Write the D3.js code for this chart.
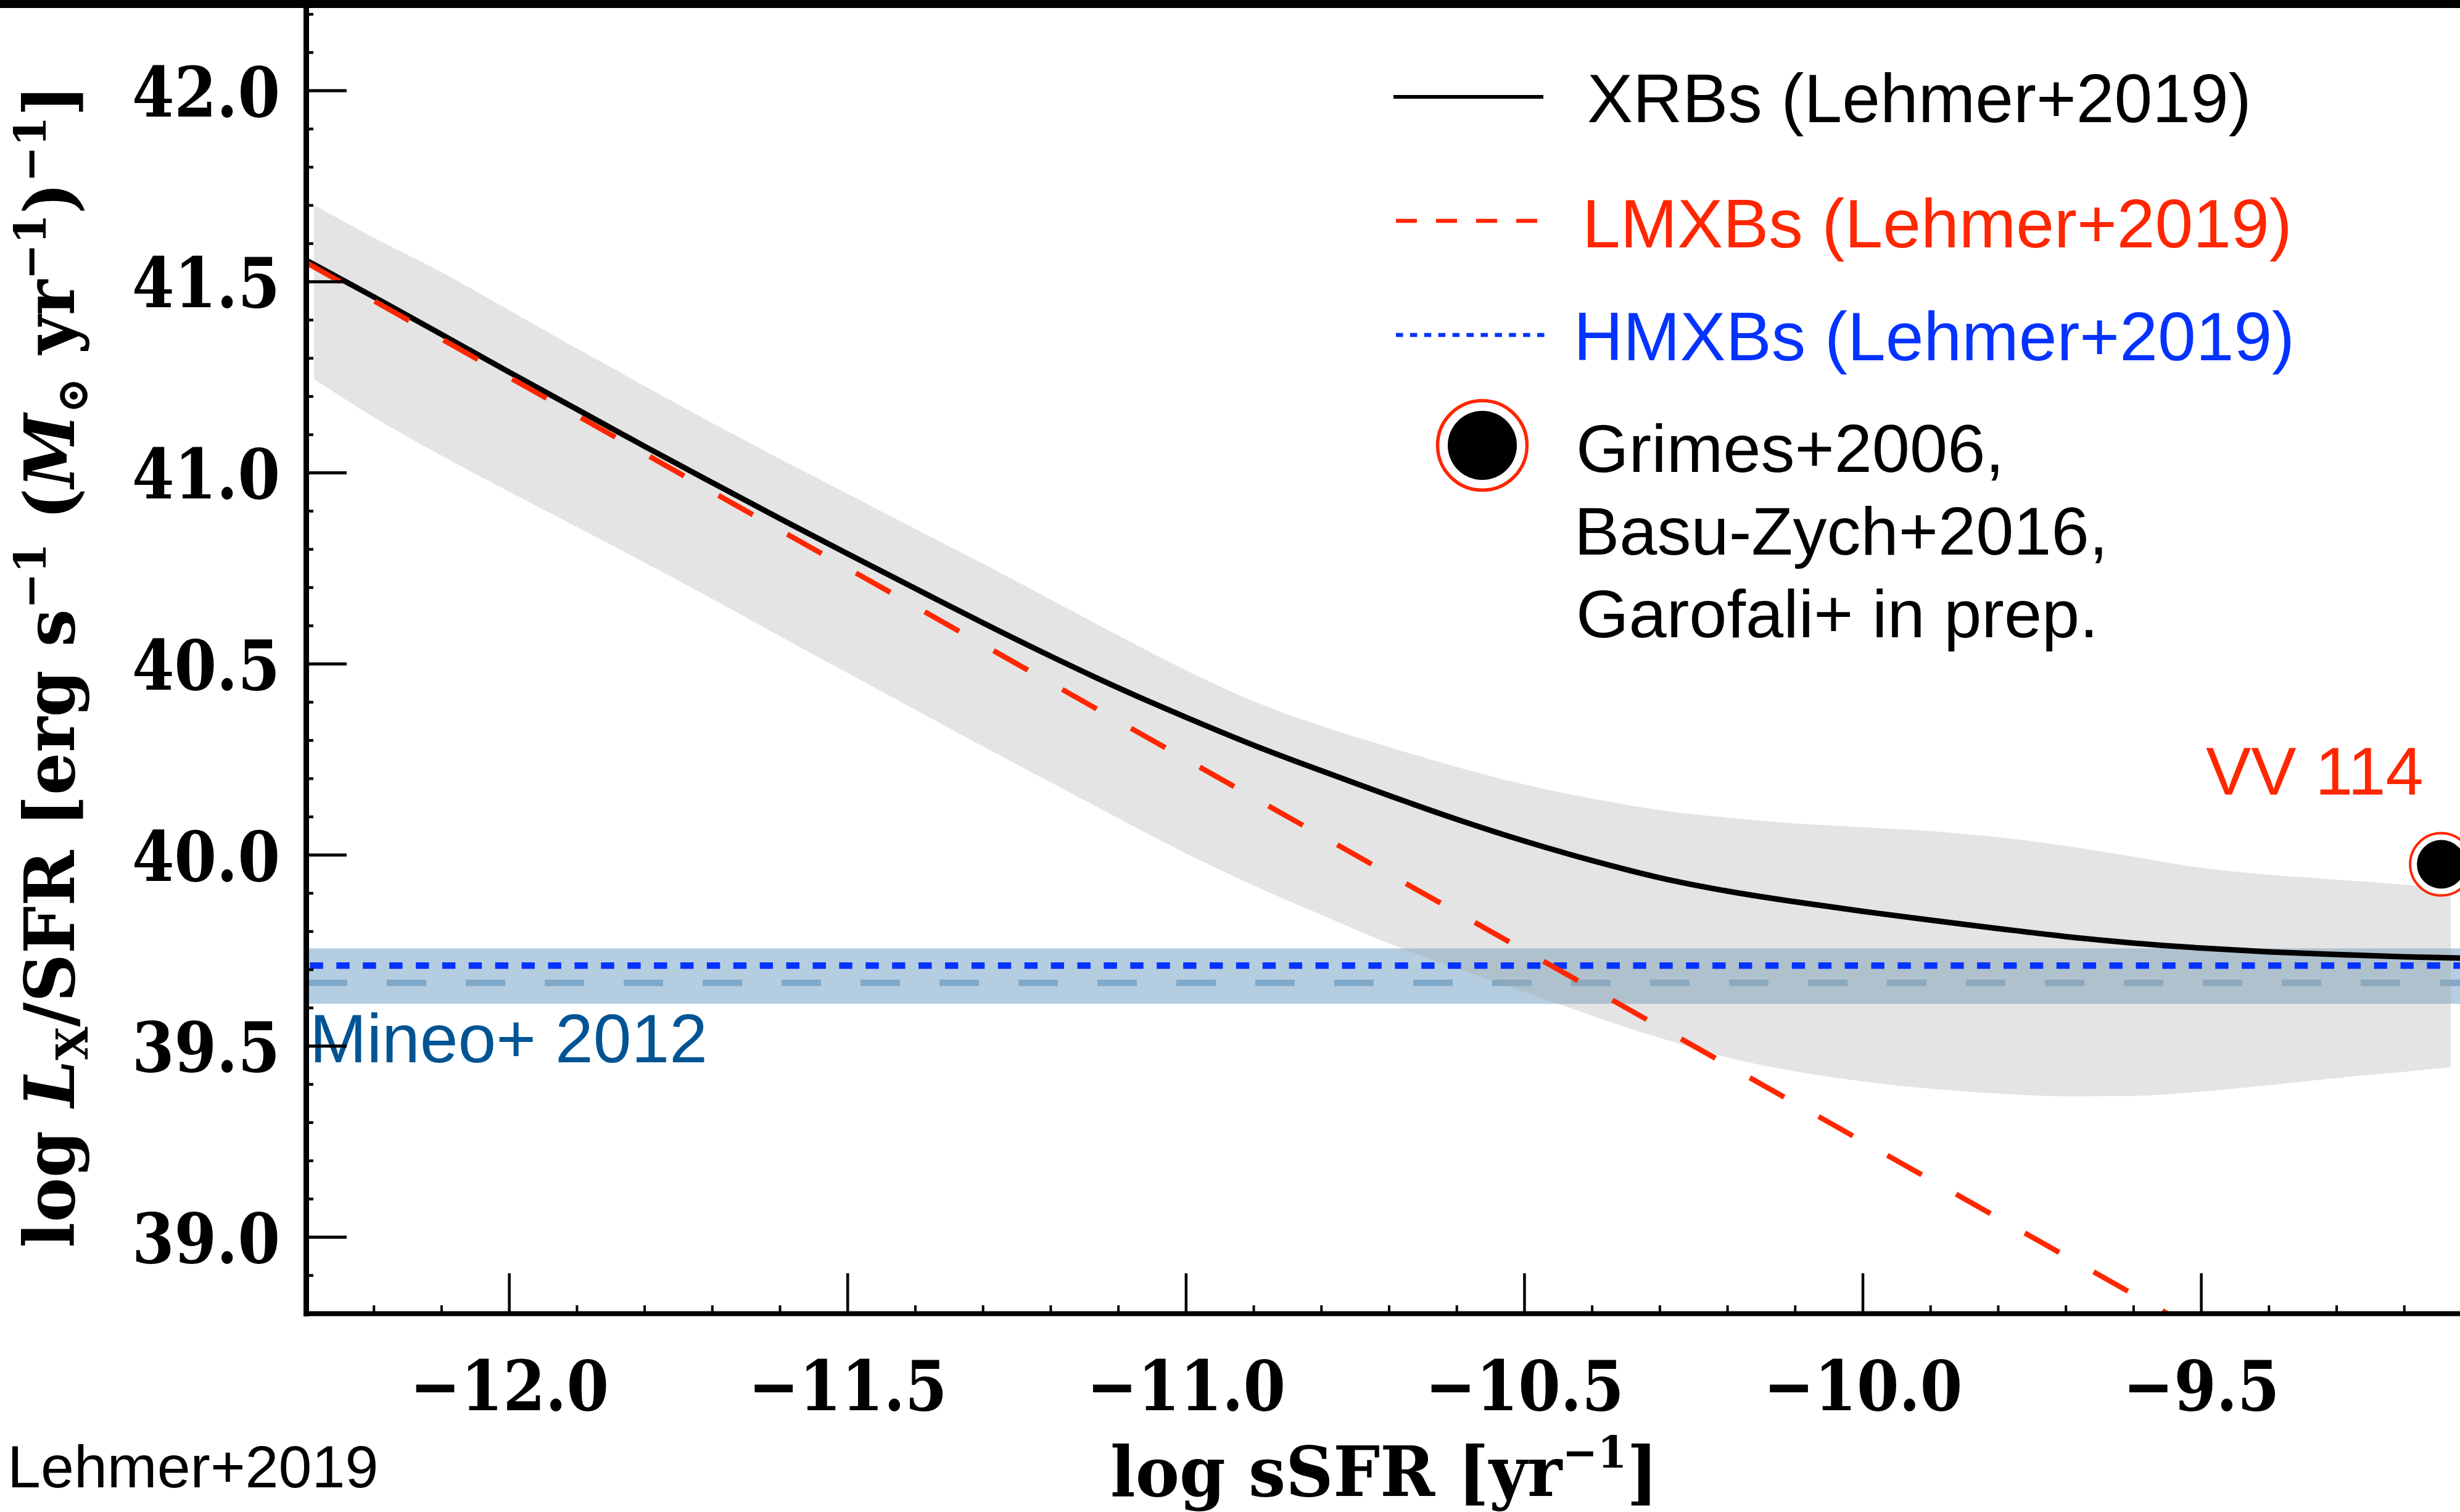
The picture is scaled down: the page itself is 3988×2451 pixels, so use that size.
<!DOCTYPE html>
<html>
<head>
<meta charset="utf-8">
<script src="https://cdn.jsdelivr.net/npm/d3@7"></script>
<style>
  html, body { margin: 0; padding: 0; background: #fff; }
  svg { display: block; }
</style>
</head>
<body>
<script>
// ---------------- data ----------------
// total XRB scaling relation (log L_X/SFR) sampled along log sSFR
const sSFR = [-12.3, -12.2, -12.1, -12.0, -11.9, -11.8, -11.7, -11.6, -11.5, -11.4, -11.3,
              -11.2, -11.1, -11.0, -10.9, -10.8, -10.7, -10.6, -10.5, -10.4, -10.3, -10.2,
              -10.1, -10.0, -9.9, -9.8, -9.7, -9.6, -9.5, -9.4, -9.3, -9.2, -9.1];
const xrbTotal = [41.556, 41.460, 41.362, 41.263, 41.166, 41.069, 40.974, 40.880, 40.788, 40.697, 40.607,
                  40.520, 40.437, 40.360, 40.287, 40.220, 40.155, 40.093, 40.036, 39.985, 39.940, 39.905,
                  39.877, 39.852, 39.829, 39.807, 39.786, 39.769, 39.756, 39.746, 39.739, 39.733, 39.729];

// LMXB component
const lmxbSSFR = [-12.3, -11.5, -10.5, -9.5];
const lmxbLx   = [41.55, 40.75, 39.75, 38.75];

// HMXB component (flat)
const hmxbSSFR = [-12.3, -9.1];
const hmxbLx   = [39.71, 39.71];

// scatter envelope around the total relation
const bandSSFR = [-12.288, -12.2, -12.1, -12.0, -11.9, -11.8, -11.7, -11.6, -11.5, -11.4, -11.3,
                  -11.2, -11.1, -11.0, -10.9, -10.8, -10.7, -10.6, -10.5, -10.4, -10.3, -10.2,
                  -10.1, -10.0, -9.9, -9.8, -9.7, -9.6, -9.5, -9.4, -9.3, -9.2, -9.131];
const bandHi = [41.70, 41.615, 41.525, 41.425, 41.325, 41.227, 41.13, 41.036, 40.945, 40.853, 40.762,
                40.668, 40.574, 40.483, 40.402, 40.337, 40.282, 40.23, 40.184, 40.147, 40.117, 40.097,
                40.082, 40.072, 40.062, 40.046, 40.023, 39.995, 39.966, 39.948, 39.935, 39.922, 39.91];
const bandLo = [41.245, 41.145, 41.045, 40.95, 40.858, 40.765, 40.670, 40.572, 40.476, 40.380, 40.284,
                40.190, 40.096, 40.004, 39.920, 39.843, 39.768, 39.703, 39.641, 39.579, 39.521, 39.470,
                39.433, 39.407, 39.388, 39.375, 39.368, 39.369, 39.380, 39.397, 39.416, 39.432, 39.444];

// Mineo+2012 relation: [low, median, high]
const mineoLx = [39.61, 39.665, 39.755];

// VV 114 measurement: [log sSFR, log Lx/SFR]
const vv114 = [-9.145, 39.975];

// axis ticks
const xTickValues = [-12.0, -11.5, -11.0, -10.5, -10.0, -9.5];
const xTickLabels = ["\u221212.0", "\u221211.5", "\u221211.0", "\u221210.5", "\u221210.0", "\u22129.5"];
const yTickValues = [39.0, 39.5, 40.0, 40.5, 41.0, 41.5, 42.0];
const yTickLabels = ["39.0", "39.5", "40.0", "40.5", "41.0", "41.5", "42.0"];

// legend and annotation texts
const legendLabels = ["XRBs (Lehmer+2019)", "LMXBs (Lehmer+2019)", "HMXBs (Lehmer+2019)"];
const pointLabels = ["Grimes+2006,", "Basu-Zych+2016,", "Garofali+ in prep."];

// ---------------- setup ----------------
const W = 3988, H = 2451;
const RED = "#ff2600", BLUE = "#0433ff", MINEO = "#005493";
const SERIF = "'DejaVu Serif', serif";
const SANS = "'Liberation Sans', Arial, Helvetica, sans-serif";

const svg = d3.select("body").append("svg")
  .attr("width", W).attr("height", H).attr("viewBox", `0 0 ${W} ${H}`);
svg.append("rect").attr("width", W).attr("height", H).attr("fill", "#fff");

const x = d3.scaleLinear().domain([-12.3, -9.1]).range([496, 4007]);
const y = d3.scaleLinear().domain([38.8, 42.227]).range([2129, 6]);

const [x0, x1] = x.range();
const [yB, yT] = y.range();

svg.append("defs").append("clipPath").attr("id", "plot-clip")
  .append("rect").attr("x", x0).attr("y", yT).attr("width", x1 - x0).attr("height", yB - yT);

const plot = svg.append("g").attr("clip-path", "url(#plot-clip)");

// Mineo+2012 band and median
plot.append("rect")
  .attr("x", x0).attr("width", x1 - x0)
  .attr("y", y(mineoLx[2])).attr("height", y(mineoLx[0]) - y(mineoLx[2]))
  .attr("fill", "#b5cde0");
plot.append("line")
  .attr("x1", x(hmxbSSFR[0])).attr("x2", x(hmxbSSFR[1]))
  .attr("y1", y(mineoLx[1])).attr("y2", y(mineoLx[1]))
  .attr("stroke", "#80a9c9").attr("stroke-width", 10.5)
  .attr("stroke-dasharray", "64 64").attr("stroke-dashoffset", 125);

// scatter envelope
const band = bandSSFR.map((s, i) => ({ s, hi: bandHi[i], lo: bandLo[i] }));
plot.append("path")
  .datum(band)
  .attr("d", d3.area().x(d => x(d.s)).y0(d => y(d.lo)).y1(d => y(d.hi)).curve(d3.curveMonotoneX))
  .attr("fill", "#a5a5a5").attr("fill-opacity", 0.3);

// total XRB relation
const line = d3.line().x(d => x(d[0])).y(d => y(d[1])).curve(d3.curveMonotoneX);
plot.append("path")
  .datum(sSFR.map((s, i) => [s, xrbTotal[i]]))
  .attr("d", line).attr("fill", "none").attr("stroke", "#000").attr("stroke-width", 9);

// HMXB component
plot.append("path")
  .datum(hmxbSSFR.map((s, i) => [s, hmxbLx[i]]))
  .attr("d", d3.line().x(d => x(d[0])).y(d => y(d[1])))
  .attr("fill", "none").attr("stroke", BLUE).attr("stroke-width", 10.5)
  .attr("stroke-dasharray", "21.4 21.5").attr("stroke-dashoffset", 36.5);

// LMXB component
plot.append("path")
  .datum(lmxbSSFR.map((s, i) => [s, lmxbLx[i]]))
  .attr("d", d3.line().x(d => x(d[0])).y(d => y(d[1])))
  .attr("fill", "none").attr("stroke", RED).attr("stroke-width", 8.5)
  .attr("stroke-dasharray", "64 64");

// Mineo label (under the axes)
svg.append("text")
  .attr("x", 502).attr("y", 1722)
  .attr("font-family", SANS).attr("font-size", 111).attr("fill", MINEO)
  .text("Mineo+ 2012");

// ---------------- axes ----------------
const squeeze = (sel, k) => sel.each(function () {
  const t = d3.select(this);
  const ax = +t.attr("x") || 0, ay = +t.attr("y") || 0;
  t.attr("transform", `translate(${ax},${ay}) scale(${k},1) translate(${-ax},${-ay})`);
});

const isMajor = v => Math.abs(v * 2 - Math.round(v * 2)) < 1e-6;
const xMinor = d3.range(-123, -90).map(i => i / 10).filter(v => !isMajor(v));
const yMinor = d3.range(388, 423).map(i => i / 10).filter(v => !isMajor(v));

// bottom axis
const gxm = svg.append("g").attr("transform", `translate(0,${yB})`)
  .call(d3.axisBottom(x).tickValues(xMinor).tickSize(-13).tickSizeOuter(0).tickFormat(""));
gxm.select(".domain").remove();
gxm.selectAll(".tick line").attr("stroke-width", 4);

const gx = svg.append("g").attr("transform", `translate(0,${yB})`)
  .call(d3.axisBottom(x).tickValues(xTickValues)
    .tickFormat((d, i) => xTickLabels[i]).tickSize(-65).tickSizeOuter(0).tickPadding(0));
gx.select(".domain").attr("stroke-width", 8).attr("stroke-linecap", "square");
gx.selectAll(".tick line").attr("stroke-width", 4.5);
gx.selectAll(".tick text")
  .attr("y", 157).attr("dy", null)
  .attr("font-family", SERIF).attr("font-weight", "bold").attr("font-size", 112)
  .attr("fill", "#000");
squeeze(gx.selectAll(".tick text"), 0.88);

// left axis
const gym = svg.append("g").attr("transform", `translate(${x0},0)`)
  .call(d3.axisLeft(y).tickValues(yMinor).tickSize(-12).tickSizeOuter(0).tickFormat(""));
gym.select(".domain").remove();
gym.selectAll(".tick line").attr("stroke-width", 4.5);

const gy = svg.append("g").attr("transform", `translate(${x0},0)`)
  .call(d3.axisLeft(y).tickValues(yTickValues)
    .tickFormat((d, i) => yTickLabels[i]).tickSize(-66).tickSizeOuter(0).tickPadding(42));
gy.select(".domain").attr("stroke-width", 9).attr("stroke-linecap", "square");
gy.selectAll(".tick line").attr("stroke-width", 5);
gy.selectAll(".tick text")
  .attr("dy", "0.37em")
  .attr("font-family", SERIF).attr("font-weight", "bold").attr("font-size", 112)
  .attr("fill", "#000");
squeeze(gy.selectAll(".tick text"), 0.88);

// rich label helper: segments [text, kind] with kind in {n, i, sub, sup}
function richText(parent, segs, size) {
  const t = parent.append("text")
    .attr("font-family", SERIF).attr("font-weight", "bold").attr("font-size", size)
    .attr("fill", "#000").attr("text-anchor", "middle");
  let cur = 0;
  segs.forEach(([s, kind]) => {
    const off = kind === "sup" ? -0.41 * size : kind === "sub" ? 0.2 * size : 0;
    const ts = t.append("tspan").attr("dy", off - cur).text(s);
    cur = off;
    if (kind === "sup" || kind === "sub") ts.attr("font-size", size * 0.64);
    if (kind === "i") ts.attr("font-style", "italic");
  });
  return t;
}
function fitWidth(t, target) {
  const w = t.node().getBBox().width;
  t.attr("transform", `scale(${target / w},1)`);
}

// y label
const yl = svg.append("g").attr("transform", "translate(120,1080) rotate(-90)");
const ylt = richText(yl, [
  ["log ", "n"], ["L", "i"], ["X", "sub"], ["/SFR [erg s", "n"], ["\u22121", "sup"],
  [" (", "n"], ["M", "i"], ["\u2299", "sub"], [" yr", "n"], ["\u22121", "sup"],
  [")", "n"], ["\u22121", "sup"], ["]", "n"]
], 112);
fitWidth(ylt, 1886);

// x label
const xl = svg.append("g").attr("transform", "translate(2244,2425)");
const xlt = richText(xl, [["log sSFR [yr", "n"], ["\u22121", "sup"], ["]", "n"]], 112);
fitWidth(xlt, 888);

// ---------------- annotations ----------------
// VV 114 point
const pg = svg.append("g").attr("transform", `translate(${x(vv114[0])},${y(vv114[1])})`);
pg.append("circle").attr("r", 50.5).attr("fill", "#fff").attr("stroke", RED).attr("stroke-width", 4);
pg.append("circle").attr("r", 39.5).attr("fill", "#000");
svg.append("text")
  .attr("x", 3576).attr("y", 1288)
  .attr("font-family", SANS).attr("font-size", 110).attr("fill", RED)
  .text("VV 114");

// legend
const lg = svg.append("g");
lg.append("line").attr("x1", 2259).attr("x2", 2502).attr("y1", 157).attr("y2", 157)
  .attr("stroke", "#000").attr("stroke-width", 6);
lg.append("line").attr("x1", 2263).attr("x2", 2492).attr("y1", 358).attr("y2", 358)
  .attr("stroke", RED).attr("stroke-width", 6.5).attr("stroke-dasharray", "34 31");
lg.append("line").attr("x1", 2263).attr("x2", 2508).attr("y1", 543).attr("y2", 543)
  .attr("stroke", BLUE).attr("stroke-width", 6.5).attr("stroke-dasharray", "11.5 11.4");

const legendPos = [[2573, 198, "#000"], [2565, 401, RED], [2551, 584, BLUE]];
legendLabels.forEach((s, i) => {
  lg.append("text").attr("x", legendPos[i][0]).attr("y", legendPos[i][1])
    .attr("font-family", SANS).attr("font-size", 111).attr("fill", legendPos[i][2]).text(s);
});

const lm = lg.append("g").attr("transform", "translate(2403,722)");
lm.append("circle").attr("r", 72.5).attr("fill", "#fff").attr("stroke", RED).attr("stroke-width", 5.5);
lm.append("circle").attr("r", 56).attr("fill", "#000");

const pointPos = [[2555, 765], [2552, 899], [2555, 1033]];
pointLabels.forEach((s, i) => {
  lg.append("text").attr("x", pointPos[i][0]).attr("y", pointPos[i][1])
    .attr("font-family", SANS).attr("font-size", 110).attr("fill", "#000").text(s);
});

// credit
svg.append("text")
  .attr("x", 12).attr("y", 2411)
  .attr("font-family", SANS).attr("font-size", 97).attr("fill", "#000")
  .text("Lehmer+2019");

// frame bar along the top edge
svg.append("rect").attr("x", 0).attr("y", 0).attr("width", W).attr("height", 13).attr("fill", "#000");
</script>
</body>
</html>
